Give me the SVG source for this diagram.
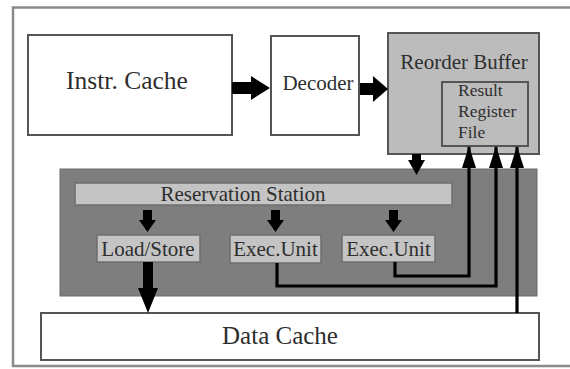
<svg xmlns="http://www.w3.org/2000/svg" width="570" height="369" viewBox="0 0 570 369" font-family="'Liberation Serif', 'Times New Roman', 'DejaVu Serif', serif">
  <defs>
    <style>
      text { font-family: 'Liberation Serif', 'Times New Roman', 'DejaVu Serif', serif; fill: #2e2e2e; }
      .box { fill: #ffffff; stroke: #555555; stroke-width: 2; }
      .rob { fill: #bcbcbc; stroke: #555555; stroke-width: 2; }
      .panel { fill: #7e7e7e; stroke: #6a6a6a; stroke-width: 1; }
      .lite { fill: #c4c4c4; stroke: #6e6e6e; stroke-width: 1.5; }
      .wire { fill: none; stroke: #000000; stroke-width: 3.2; }
      .fat { fill: #000000; }
    </style>
    <marker id="head" markerUnits="userSpaceOnUse" markerWidth="22" markerHeight="14" refX="21" refY="7" orient="auto">
      <path d="M0,0 L22,7 L0,14 z" fill="#000000"/>
    </marker>
  </defs>

  <rect width="570" height="369" fill="#ffffff"/>
  <!-- outer frame, running past the right edge -->
  <rect x="13" y="7.5" width="600" height="358.5" fill="none" stroke="#8a8a8a" stroke-width="2.5"/>

  <g id="instr-cache">
    <rect class="box" x="28" y="35" width="204" height="100"/>
    <text x="127" y="89" font-size="25.5" text-anchor="middle">Instr. Cache</text>
  </g>

  <g id="decoder">
    <rect class="box" x="271" y="36" width="88" height="99"/>
    <text x="318" y="90" font-size="21" text-anchor="middle">Decoder</text>
  </g>

  <g id="reorder-buffer">
    <rect class="rob" x="388" y="33" width="151" height="121"/>
    <text x="464" y="69" font-size="21" text-anchor="middle">Reorder Buffer</text>
  </g>

  <g id="result-register-file">
    <rect class="rob" x="442" y="82" width="86" height="64"/>
    <text x="458" y="96" font-size="17.5">Result</text>
    <text x="458" y="117" font-size="17.5">Register</text>
    <text x="458" y="138" font-size="17.5">File</text>
  </g>

  <g id="execution-core">
    <rect class="panel" x="60" y="169" width="477" height="127"/>
  </g>

  <g id="reservation-station">
    <rect class="lite" x="75" y="183" width="377" height="22"/>
    <text x="243" y="201" font-size="21" text-anchor="middle">Reservation Station</text>
  </g>

  <g id="load-store">
    <rect class="lite" x="97" y="235" width="103" height="27"/>
    <text x="148" y="256" font-size="21" text-anchor="middle">Load/Store</text>
  </g>

  <g id="exec-unit-1">
    <rect class="lite" x="230" y="235" width="91" height="28"/>
    <text x="275.5" y="256" font-size="21" text-anchor="middle">Exec.Unit</text>
  </g>

  <g id="exec-unit-2">
    <rect class="lite" x="342" y="235" width="93" height="27"/>
    <text x="388.5" y="256" font-size="21" text-anchor="middle">Exec.Unit</text>
  </g>

  <g id="data-cache">
    <rect class="box" x="41" y="313" width="498" height="47"/>
    <text x="280" y="344" font-size="25" text-anchor="middle">Data Cache</text>
  </g>

  <g id="connectors">
    <!-- instruction flow -->
    <polygon class="fat" points="232,82 251,82 251,76 270,88 251,100 251,94 232,94"/>
    <polygon class="fat" points="360,83 373,83 373,76 388,89 373,102 373,95 360,95"/>
    <!-- reorder buffer to reservation station -->
    <polygon class="fat" points="412,154 421,154 421,160 425,160 416.5,175 408,160 412,160"/>
    <!-- dispatch to units -->
    <polygon class="fat" points="143,210 152,210 152,220 156,220 147.5,232 139,220 143,220"/>
    <polygon class="fat" points="271,210 280,210 280,220 284,220 275.5,232 267,220 271,220"/>
    <polygon class="fat" points="389,210 398,210 398,220 402,220 393.5,232 385,220 389,220"/>
    <!-- load/store to data cache -->
    <polygon class="fat" points="143,262 153,262 153,288 158,288 148,313 138,288 143,288"/>
    <!-- results written back -->
    <path class="wire" d="M395,262 V276 H469 V147" marker-end="url(#head)"/>
    <path class="wire" d="M277,263 V286 H496 V147" marker-end="url(#head)"/>
    <path class="wire" d="M517,313 V147" marker-end="url(#head)"/>
  </g>
</svg>
